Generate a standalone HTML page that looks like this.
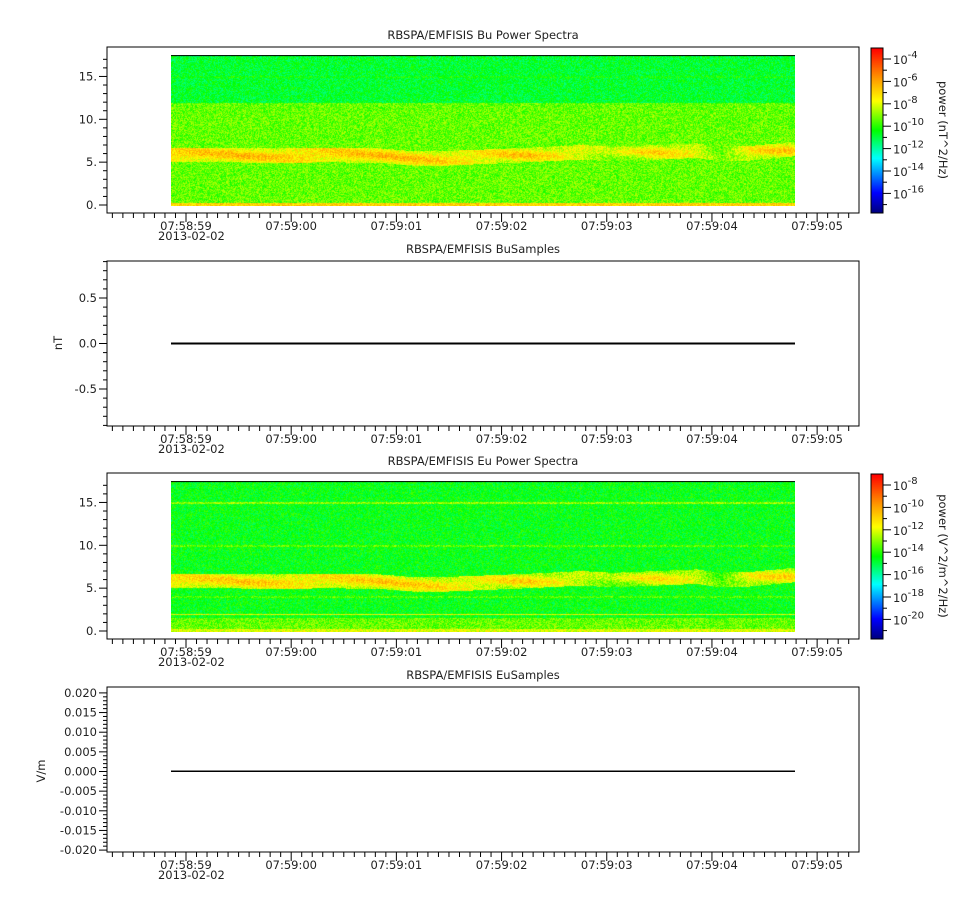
<!DOCTYPE html>
<html><head><meta charset="utf-8"><style>
html,body{margin:0;padding:0;background:#fff;width:967px;height:900px;overflow:hidden}
svg{position:absolute;left:0;top:0}
canvas{position:absolute}
text{font-family:"DejaVu Sans","Liberation Sans",sans-serif;font-size:11.5px;fill:#222}
</style></head><body>
<canvas id="spec1" style="left:171px;top:55px" width="624" height="151"></canvas>
<canvas id="spec2" style="left:171px;top:481px" width="624" height="151"></canvas>
<canvas id="cb1" style="left:871px;top:48px" width="12" height="165"></canvas>
<canvas id="cb2" style="left:871px;top:474px" width="12" height="165"></canvas>
<svg id="svg" width="967" height="900"></svg>
<script>
// ---- data ----
const timeLabels=["07:58:59","07:59:00","07:59:01","07:59:02","07:59:03","07:59:04","07:59:05"];
const dateLabel="2013-02-02";
const titles=["RBSPA/EMFISIS  Bu Power Spectra","RBSPA/EMFISIS  BuSamples","RBSPA/EMFISIS  Eu Power Spectra","RBSPA/EMFISIS  EuSamples"];
const specTicks=[0,5,10,15];
const buTicks=[0.5,0,-0.5];
const euTicks=[0.020,0.015,0.010,0.005,0.000,-0.005,-0.010,-0.015,-0.020];
const cb1Exps=[-4,-6,-8,-10,-12,-14,-16];
const cb2Exps=[-8,-10,-12,-14,-16,-18,-20];
// band track (seconds after data start, center freq, intensity)
const bandT=[0,0.5,1.0,1.5,2.0,2.3,2.6,3.0,3.4,3.9,4.2,4.6,5.0,5.2,5.5,5.93];
const bandF=[5.9,5.9,5.8,5.9,5.8,5.5,5.5,5.7,5.9,6.2,6.0,6.2,6.4,6.0,6.1,6.6];
const bandI=[1.0,1.0,1.0,1.0,1.0,1.0,0.9,0.9,0.9,0.7,0.4,0.8,0.7,0.1,0.8,0.9];

const X0=107,X1=859,T0=-0.751,T1=6.398; // seconds relative to 07:58:59
const xs=t=>X0+(t-T0)/(T1-T0)*(X1-X0);
const NS="http://www.w3.org/2000/svg";
const svg=document.getElementById('svg');
function el(tag,attrs,txt){const e=document.createElementNS(NS,tag);for(const k in attrs)e.setAttribute(k,attrs[k]);if(txt!==undefined)e.textContent=txt;svg.appendChild(e);return e;}

function cmap(v){v=Math.max(0,Math.min(1,v));
 const s=[[0,0,0,128],[0.12,0,0,255],[0.33,0,255,255],[0.5,0,255,0],[0.68,255,255,0],[0.82,255,150,0],[1,255,0,0]];
 for(let i=1;i<s.length;i++){if(v<=s[i][0]){const a=s[i-1],b=s[i],f=(v-a[0])/(b[0]-a[0]);return [a[1]+f*(b[1]-a[1]),a[2]+f*(b[2]-a[2]),a[3]+f*(b[3]-a[3])];}}
 return [255,0,0];}
function hash(i,j){let h=(i*374761393+j*668265263)|0;h=(h^(h>>>13))*1274126177|0;return ((h^(h>>>16))>>>0)/4294967296;}
function interp(arr,t){for(let i=1;i<bandT.length;i++){if(t<=bandT[i]){const f=(t-bandT[i-1])/(bandT[i]-bandT[i-1]);return arr[i-1]+f*(arr[i]-arr[i-1]);}}return arr[arr.length-1];}

function drawSpec(id,base,bandLevel,lines){
 const c=document.getElementById(id),ctx=c.getContext('2d'),W=c.width,H=c.height,img=ctx.createImageData(W,H);
 for(let x=0;x<W;x++){const t=x/105.2; const bc=interp(bandF,t),bi=interp(bandI,t);
  for(let y=0;y<H;y++){const f=(H-1-y)/8.57;let v=base(f);
   const d=Math.abs(f-bc);if(d<0.85)v=Math.max(v,bandLevel-0.08*d+(bi-1)*0.16+0.04*Math.sin(x/23+f*3));
   for(const L of lines)if(Math.abs(f-L[0])<0.09)v=Math.max(v,L[1]);
   v+= (hash(x,y)-0.5)*0.13;
   const col=cmap(v),k=(y*W+x)*4;img.data[k]=col[0];img.data[k+1]=col[1];img.data[k+2]=col[2];img.data[k+3]=255;}}
 ctx.putImageData(img,0,0);ctx.fillStyle='#000';ctx.fillRect(0,0,W,1);}
drawSpec('spec1',f=>f<0.3?0.74:(f<12?0.57:0.47),0.75,[[15,0.5]]);
drawSpec('spec2',f=>f<0.3?0.66:(f<1.6?0.57:0.49),0.73,[[2,0.68],[15,0.6],[10,0.56],[4,0.55]]);
for(const id of ['cb1','cb2']){const c=document.getElementById(id),ctx=c.getContext('2d');for(let y=0;y<c.height;y++){const col=cmap(1-y/(c.height-1));ctx.fillStyle=`rgb(${col.map(Math.round)})`;ctx.fillRect(0,y,c.width,1);}}

function timeAxis(yb){
 for(let t=Math.ceil(T0*10);t<=T1*10;t++){const x=xs(t/10),major=t%10===0;
  const l=el('line',{x1:x,x2:x,y1:yb,y2:yb+(major?9:5),stroke:'#000'});}
 timeLabels.forEach((s,i)=>{const tx=el('text',{x:xs(i),y:yb+17,'text-anchor':'middle'},s);});
 const d=el('text',{x:xs(0)-28,y:yb+27},dateLabel);}

function panel(top,bot,title,name){
 const r=el('rect',{x:X0,y:top,width:X1-X0,height:bot-top,fill:'none',stroke:'#000'});
 
 const tt=el('text',{x:483,y:top-8,'text-anchor':'middle'},title);
 
 timeAxis(bot);}

function specPanel(top,bot,specTop,title,name,cbExps,cbTop,cbLabel){
 panel(top,bot,title,name);
 const y0=bot-8,ys=v=>y0-v*8.57;
 for(let v=0;v<=17;v++){const y=ys(v);el('line',{x1:X0-(v%5===0?8:4),x2:X0,y1:y,y2:y,stroke:'#000'});}
 specTicks.forEach(v=>{const t=el('text',{x:X0-10,y:ys(v)+4,'text-anchor':'end'},v+'.');});
 el('rect',{x:871,y:cbTop,width:12,height:165,fill:'none',stroke:'#000'});
 const step=22.4;
 const yfirst=cbTop+11;
 for(let i=-1;i<cbExps.length+1;i++){const y=yfirst+i*step;
  if(y>cbTop&&y<cbTop+165)el('line',{x1:883,x2:891,y1:y,y2:y,stroke:'#000'});
  const ym=y+step/2;if(ym>cbTop&&ym<cbTop+165)el('line',{x1:883,x2:887,y1:ym,y2:ym,stroke:'#000'});}
 cbExps.forEach((e,i)=>{const y=yfirst+i*step;const t=el('text',{x:893,y:y+5});
  
  const a=document.createElementNS(NS,'tspan');a.textContent='10';t.appendChild(a);
  const b=document.createElementNS(NS,'tspan');b.setAttribute('dy','-6');b.setAttribute('font-size','10');b.textContent=String(e);t.appendChild(b);});
 const cl=el('text',{x:0,y:0,transform:`translate(939,${cbTop+82}) rotate(90)`,'text-anchor':'middle'},cbLabel);
 }
specPanel(47,213,55,titles[0],'bu-spectra',cb1Exps,48,'power (nT^2/Hz)');
specPanel(473,639,481,titles[2],'eu-spectra',cb2Exps,474,'power (V^2/m^2/Hz)');

panel(261,426,titles[1],'bu-samples');
{const ys=v=>343.5-v*91;
 for(let k=-9;k<=9;k++){const y=ys(k/10);el('line',{x1:X0-(k%5===0?8:4),x2:X0,y1:y,y2:y,stroke:'#000'});}
 buTicks.forEach(v=>{const t=el('text',{x:X0-10,y:ys(v)+4,'text-anchor':'end'},v.toFixed(1));});
 const yl=el('text',{x:0,y:0,transform:'translate(62,343) rotate(-90)','text-anchor':'middle'},'nT');
 const tr=el('rect',{x:171,y:ys(0)-1,width:624,height:2,fill:'#000'});}

panel(687,852,titles[3],'eu-samples');
{const ys=v=>771.5-v*3930;
 for(let k=-20;k<=20;k++){const y=ys(k/1000);el('line',{x1:X0-(k%5===0?8:4),x2:X0,y1:y,y2:y,stroke:'#000'});}
 euTicks.forEach(v=>{const t=el('text',{x:X0-10,y:ys(v)+4,'text-anchor':'end'},v.toFixed(3));});
 const yl=el('text',{x:0,y:0,transform:'translate(45,771) rotate(-90)','text-anchor':'middle'},'V/m');
 const tr=el('rect',{x:171,y:ys(0)-1,width:624,height:1.5,fill:'#000'});}
</script>
</body></html>
